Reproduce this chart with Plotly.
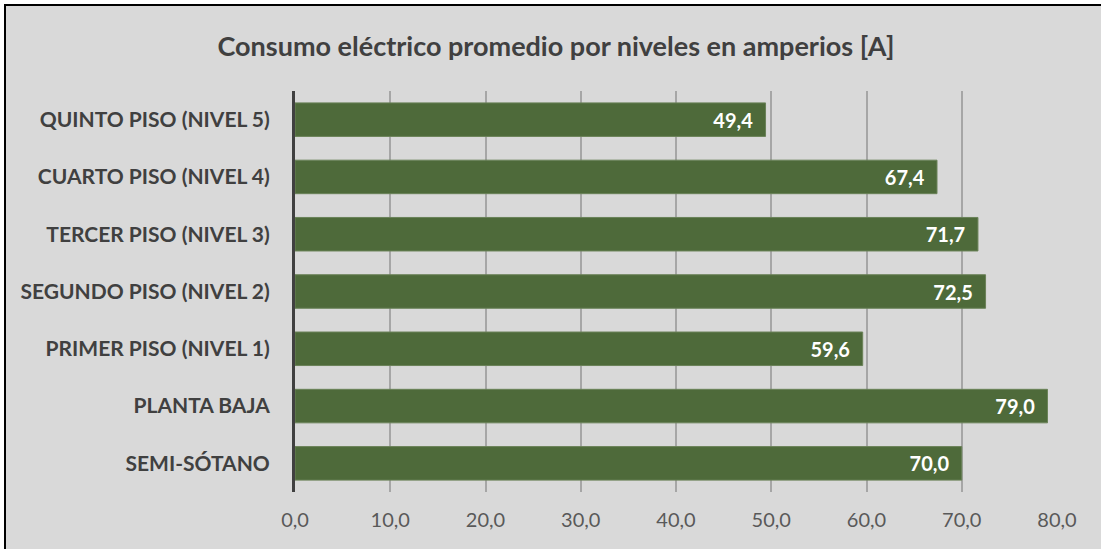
import plotly.graph_objects as go

categories = ["SEMI-SÓTANO", "PLANTA BAJA", "PRIMER PISO (NIVEL 1)", "SEGUNDO PISO (NIVEL 2)",
              "TERCER PISO (NIVEL 3)", "CUARTO PISO (NIVEL 4)", "QUINTO PISO (NIVEL 5)"]
values = [70.0, 79.0, 59.6, 72.5, 71.7, 67.4, 49.4]
title_text = "Consumo eléctrico promedio por niveles en amperios [A]"

W, H = 1101, 549
L, R, T, B = 295, 44, 91, 57
pw, ph = W - L - R, H - T - B

def px_x(p):
    return (p - L) / pw

def px_y(p):
    return (H - B - p) / ph

fig = go.Figure(go.Bar(
    x=values, y=categories, orientation="h",
    marker=dict(color="#4e6a3a", line=dict(color="#6a8258", width=1)),
    texttemplate="%{x:.1f}\u00a0\u00a0", textposition="inside", insidetextanchor="end",
    textfont=dict(family="Lato", size=20, color="white", weight="bold"),
    hoverinfo="skip", cliponaxis=False,
))

fig.add_shape(type="rect", xref="paper", yref="paper",
              x0=px_x(5), x1=px_x(W + 5), y0=px_y(H + 5), y1=px_y(5),
              fillcolor="#d9d9d9", line=dict(color="black", width=2), layer="below")

fig.update_layout(
    width=W, height=H,
    margin=dict(l=L, r=R, t=T, b=B),
    paper_bgcolor="white", plot_bgcolor="rgba(0,0,0,0)",
    separators=",.",
    bargap=0.415,
    showlegend=False,
    title=dict(text=title_text, x=(556 - L) / pw, xref="paper", xanchor="center",
               y=1 - 47 / H, yanchor="middle",
               font=dict(family="Lato", size=27, color="#404040", weight="bold")),
    font=dict(family="Lato"),
)
fig.update_xaxes(range=[0, 80], dtick=10, tickformat=".1f",
                 showgrid=True, gridcolor="rgba(90,90,90,0.4)", gridwidth=1.5,
                 zeroline=False, showline=False, layer="above traces",
                 tickfont=dict(family="Lato", size=20, color="#595959"), ticks="", ticklen=0,
                 ticklabelstandoff=14)
fig.update_yaxes(showline=True, linecolor="#404040", linewidth=3, showgrid=False,
                 tickfont=dict(family="Lato", size=21, color="#404040", weight="bold"),
                 ticks="", ticklabelstandoff=18)

fig.write_html("out.html")
